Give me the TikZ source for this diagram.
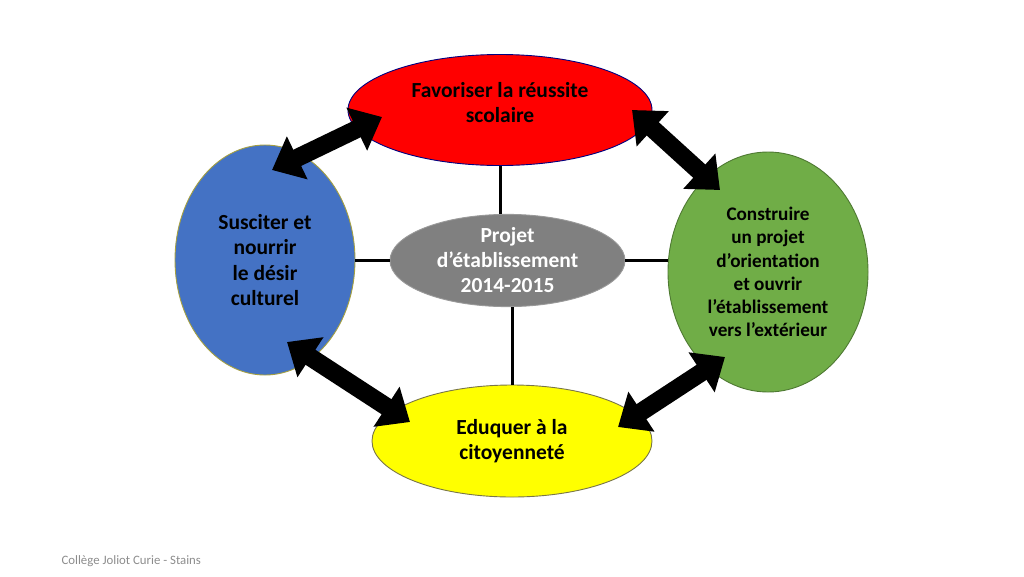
\documentclass[tikz,border=0pt]{standalone}
\usepackage{fontspec}
\setmainfont{Carlito}
\usetikzlibrary{arrows.meta, shapes.geometric}
\definecolor{zonered}{RGB}{255, 0, 0}
\definecolor{zoneblue}{RGB}{68, 114, 196}
\definecolor{zonegreen}{RGB}{112, 173, 71}
\definecolor{zoneyellow}{RGB}{255, 255, 0}
\definecolor{zonegray}{RGB}{128, 128, 128}
\definecolor{footgray}{RGB}{140, 140, 140}
\begin{document}
\begin{tikzpicture}[x=1pt, y=-1pt,
    zone/.style={ellipse, draw, line width=0.9pt, inner sep=0pt, align=center},
    link/.style={line width=3pt},
    dblarrow/.style={line width=18pt, {Triangle[width=46pt,length=28pt]}-{Triangle[width=46pt,length=28pt]}}]
  \useasboundingbox (0,0) rectangle (1024,576);
  % les cinq zones
  \node[zone, fill=zonered, draw=blue!50!black, minimum width=304pt, minimum height=111pt, text depth=16pt, font=\bfseries\fontsize{21.5}{25}\selectfont] (reussite) at (500,110) {Favoriser la réussite\\scolaire};
  \node[zone, fill=zoneblue, draw=yellow!60!black, minimum width=180pt, minimum height=230pt, font=\bfseries\fontsize{21.5}{25.3}\selectfont] (desir) at (265,260) {Susciter et\\nourrir\\le désir\\culturel};
  \node[zone, fill=zonegreen, draw=zonegreen!70!black, minimum width=200pt, minimum height=240pt, font=\bfseries\fontsize{19.2}{23.2}\selectfont] (orient) at (768,272) {Construire\\un projet\\d’orientation\\et ouvrir\\l’établissement\\vers l’extérieur};
  \node[zone, fill=zoneyellow, draw=yellow!40!black, minimum width=280pt, minimum height=112pt, font=\bfseries\fontsize{21.5}{25}\selectfont] (civisme) at (512,441) {Eduquer à la\\citoyenneté};
  \node[zone, fill=zonegray, draw=zonegray!80!white, text=white, minimum width=235pt, minimum height=91pt, font=\bfseries\fontsize{21.5}{25}\selectfont] (projet) at (507.5,260.5) {Projet\\d’établissement\\2014-2015};
  % traits vers le centre
  \draw[link] (reussite.south) -- (reussite.south |- projet.north);
  \draw[link] (civisme.north) -- (civisme.north |- projet.south);
  \draw[link] (projet.west) -- (projet.west -| desir.east);
  \draw[link] (projet.east) -- (projet.east -| orient.west);
  % doubles fleches
  \coordinate (rb1) at (382,117);
  \coordinate (rb2) at (272,170);
  \coordinate (rg1) at (632,110);
  \coordinate (rg2) at (720,190);
  \coordinate (by1) at (287,342);
  \coordinate (by2) at (410,422);
  \coordinate (yg1) at (618,427);
  \coordinate (yg2) at (725,357);
  \draw[dblarrow] (rb1) -- (rb2);
  \draw[dblarrow] (rg1) -- (rg2);
  \draw[dblarrow] (by1) -- (by2);
  \draw[dblarrow] (yg1) -- (yg2);
  \node[anchor=west, text=footgray, font=\fontsize{12.8}{15}\selectfont] (credit) at (58,561) {Collège Joliot Curie - Stains};
\end{tikzpicture}
\end{document}
